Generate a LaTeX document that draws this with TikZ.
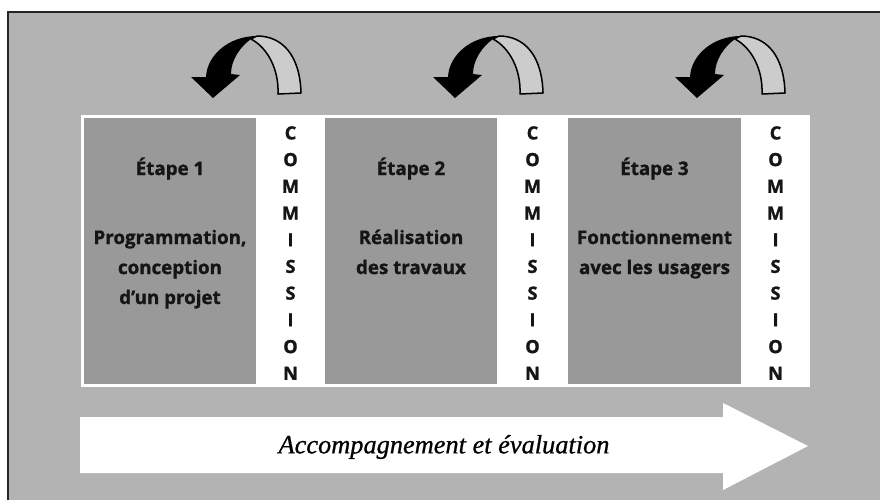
\documentclass[tikz,border=0pt]{standalone}
\usepackage{fontspec}
\setmainfont{Liberation Serif}
\newfontfamily\boxfont[BoldFeatures={FakeBold=1.2}]{Open Sans}
\newfontfamily\accfont[ItalicFeatures={FakeBold=0.8}]{Liberation Serif}
\definecolor{bg}{HTML}{B3B3B3}
\definecolor{stage}{HTML}{999999}
\definecolor{ribbon}{HTML}{CCCCCC}
\definecolor{ink}{HTML}{151515}
\begin{document}
\begin{tikzpicture}[x=0.03cm,y=-0.03cm,
  stagetxt/.style={font=\boxfont\bfseries\fontsize{16}{19}\selectfont, text=ink, anchor=base, inner sep=0pt},
  commtxt/.style={font=\boxfont\bfseries\fontsize{15.5}{22.8}\selectfont, text=ink, align=center, anchor=north, inner sep=0pt},
  stagebox/.style={fill=stage, draw=none},
  curvearrow/.pic={
    \filldraw[fill=ribbon, draw=black, line width=1.3pt, line join=round]
      (301,93) .. controls (300,55) and (282,36) .. (257,36) -- (251,39)
      .. controls (268,48) and (279,70) .. (278,94) -- cycle;
    \fill[black] (257,36) .. controls (229,36) and (207,55) .. (206,77) -- (191,77)
      -- (213,98) -- (240,75) -- (231,74) .. controls (231,60) and (240,47) .. (251,39) -- cycle;
  },
]
\useasboundingbox (0,0) rectangle (880,499);
\fill[white] (0,0) rectangle (880,499);
\draw[fill=bg, draw=black!85, line width=1.6pt] (8,12) rectangle (900,520);

% curved arrows
\pic (ca1) at (0,0) {curvearrow};
\pic (ca2) at (242,0) {curvearrow};
\pic (ca3) at (484,0) {curvearrow};

% white panel
\fill[white] (81,115) rectangle (810,387);

% stage boxes
\path[stagebox] (84,118) rectangle (256,384);
\path[stagebox] (325,118) rectangle (497,384);
\path[stagebox] (568,118) rectangle (741,384);

% stage texts
\node[stagetxt] (e1) at (170,175) {Étape 1};
\node[stagetxt] (e1a) at (170,244) {Programmation,};
\node[stagetxt] (e1b) at (170,274) {conception};
\node[stagetxt] (e1c) at (170,304) {d’un projet};

\node[stagetxt] (e2) at (411,175) {Étape 2};
\node[stagetxt] (e2a) at (411,244) {Réalisation};
\node[stagetxt] (e2b) at (411,274) {des travaux};

\node[stagetxt] (e3) at (654.5,175) {Étape 3};
\node[stagetxt] (e3a) at (654.5,244) {Fonctionnement};
\node[stagetxt] (e3b) at (654.5,274) {avec les usagers};

% commission columns
\node[commtxt] (c1) at (290.5,126) {C\\O\\M\\M\\I\\S\\S\\I\\O\\N};
\node[commtxt] (c2) at (532.5,126) {C\\O\\M\\M\\I\\S\\S\\I\\O\\N};
\node[commtxt] (c3) at (775.5,126) {C\\O\\M\\M\\I\\S\\S\\I\\O\\N};

% big arrow
\fill[white] (80,417) -- (723,417) -- (723,403) -- (808,446) -- (723,490) -- (723,473) -- (80,473) -- cycle;
\node[font=\accfont\itshape\fontsize{22.5}{27}\selectfont, inner sep=0pt] (acc) at (444,447) {Accompagnement et évaluation};
\end{tikzpicture}
\end{document}
